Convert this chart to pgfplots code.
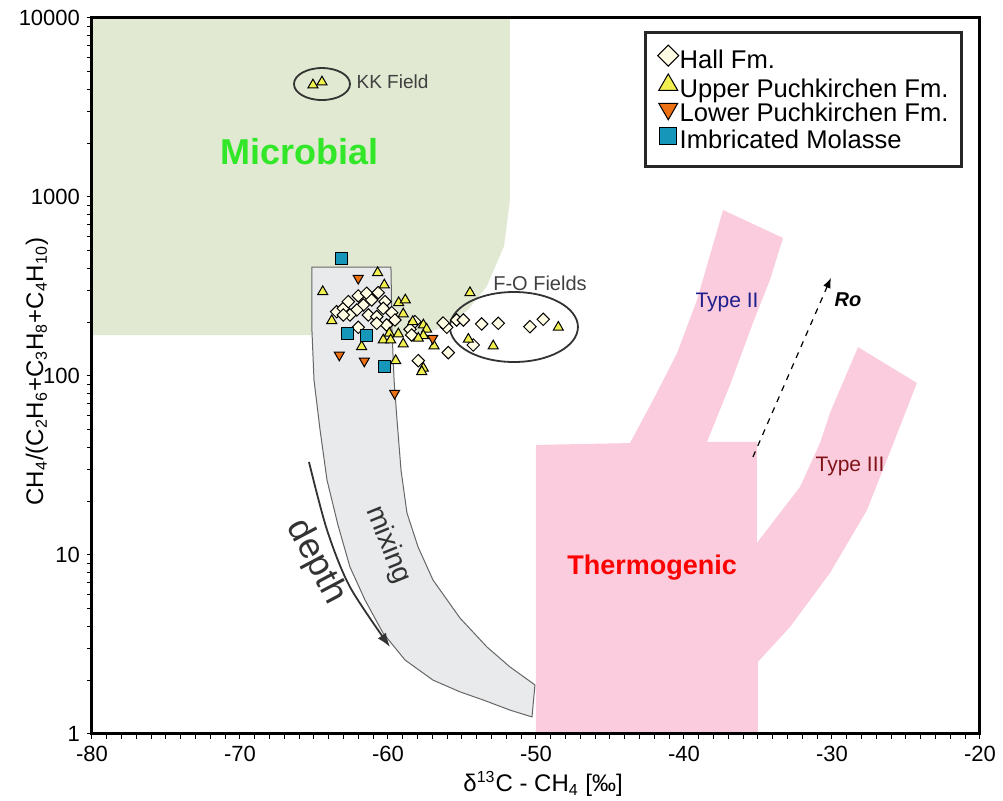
\documentclass[border=0pt]{standalone}
\usepackage{fontspec}
\setmainfont{Liberation Sans}
\usepackage{pgfplots}
\pgfplotsset{compat=1.18}
\usetikzlibrary{arrows.meta}

\definecolor{microgreen}{RGB}{225,233,210}
\definecolor{thermopink}{RGB}{250,204,221}
\definecolor{mixgray}{RGB}{233,234,235}
\definecolor{hallfill}{RGB}{255,253,228}
\definecolor{upperfill}{RGB}{242,240,80}
\definecolor{lowerfill}{RGB}{236,112,20}
\definecolor{imbfill}{RGB}{22,150,185}
\definecolor{microtext}{RGB}{50,230,40}
\definecolor{typetwo}{RGB}{30,30,140}
\definecolor{typethree}{RGB}{130,20,25}

\begin{document}
\begin{tikzpicture}
\useasboundingbox (-46pt,-33.5pt) rectangle (455.5pt,367pt);
\begin{axis}[
  at={(0,0)}, anchor=south west,
  scale only axis, width=444pt, height=358pt,
  xmin=-80, xmax=-20, ymin=1, ymax=10000,
  ymode=log,
  axis on top,
  axis line style={line width=1.5pt},
  xtick={-80,-70,-60,-50,-40,-30,-20},
  xticklabels={-80,-70,-60,-50,-40,-30,-20},
  minor x tick num=9,
  ytick={1,10,100,1000,10000},
  yticklabels={1,10,100,1000,10000},
  tick align=outside, xtick pos=bottom, ytick pos=left,
  major tick length=2.5pt, minor tick length=2.5pt,
  tick style={black, line width=0.5pt},
  xticklabel style={font=\fontsize{11}{12}\selectfont},
  yticklabel style={font=\fontsize{11}{12}\selectfont},
  xlabel={δ\textsuperscript{13}C - CH\textsubscript{4} [‰]},
  ylabel={CH\textsubscript{4}/(C\textsubscript{2}H\textsubscript{6}+C\textsubscript{3}H\textsubscript{8}+C\textsubscript{4}H\textsubscript{10})},
  every axis x label/.style={at={(axis description cs:0.508,-0.07)}, anchor=center, font=\fontsize{12}{14}\selectfont},
  every axis y label/.style={at={(axis description cs:-0.062,0.506)}, anchor=center, rotate=90, font=\fontsize{12}{14}\selectfont},
  legend style={at={(0.981,0.982)}, anchor=north east, draw=black!85, line width=1.5pt,
    font=\fontsize{12.8}{12.8}\selectfont, legend cell align=left,
    inner xsep=6pt, inner ysep=6.4pt,
    nodes={inner xsep=0.5pt, inner ysep=0pt, text height=9pt, text depth=2.7pt}, row sep=0pt},
  legend image code/.code={\draw[#1, line width=0.6pt] plot coordinates {(0.2cm,0.33em)};},
]

% Microbial field
\addplot[fill=microgreen, draw=none, forget plot] coordinates {
  (-80,10000) (-51.76,10000) (-51.76,962) (-52.16,531) (-53.34,315) (-54.64,232)
  (-56.20,188) (-57.57,172) (-58.51,169) (-80,169)
} -- cycle;

% Thermogenic field
\addplot[fill=thermopink, draw=none, forget plot] coordinates {
  (-50,1) (-35,1) (-35,2.53) (-32.84,3.96) (-30.14,7.93) (-27.64,17.8) (-25.95,40.1)
  (-24.26,91.4) (-28.24,145) (-30.14,62.1) (-30.81,42.2) (-32.16,24.0) (-35.07,11.7)
  (-35.07,42.8) (-38.45,42.8) (-36.89,89.1) (-35.34,198) (-34.19,344) (-33.31,590)
  (-37.36,846) (-39.12,266) (-40.47,134) (-42.09,73.4) (-43.65,42.2) (-50,41.2)
} -- cycle;

% Mixing band
\addplot[fill=mixgray, draw=black!60, line width=0.5pt, forget plot] coordinates {
  (-65.14,406) (-65.14,181) (-65.0,95) (-64.59,49.9) (-64.12,26.2) (-63.38,14.7)
  (-62.57,8.57) (-61.55,5.60) (-60.34,3.67) (-58.85,2.59) (-56.96,2.00) (-55.14,1.72)
  (-53.58,1.55) (-51.76,1.36) (-50.27,1.245) (-50.07,1.88) (-51.76,2.37) (-53.31,3.06)
  (-55.14,4.45) (-56.96,7.25) (-57.97,11.1) (-58.72,17.2) (-59.12,29.8) (-59.39,56.8)
  (-59.59,95) (-59.73,181) (-59.80,406)
} -- cycle;

% Ellipses
\draw[black!80, line width=0.9pt] (axis cs:-64.46,4276) ellipse [x radius=14pt, y radius=8pt];
\draw[black!80, line width=0.9pt] (axis cs:-51.49,187.8) ellipse [x radius=32pt, y radius=17.5pt];

% Arrows
\addplot[black, dashed, line width=0.6pt, -{Latex[length=5pt,width=4pt]}, forget plot] coordinates {(-35.34,35.3) (-30.07,353)};
\addplot[black!80, line width=0.9pt, smooth, -{Latex[length=7pt,width=5pt]}, forget plot] coordinates {(-65.34,33.1) (-64.12,13.8) (-62.57,6.63) (-59.86,3.06)};

% Labels
\node[font=\fontsize{18}{20}\selectfont\bfseries, text=microtext] at (axis cs:-65.95,1784) {Microbial};
\node[font=\fontsize{13.5}{15}\selectfont\bfseries, text=red] at (axis cs:-42.16,8.46) {Thermogenic};
\node[font=\fontsize{9.5}{11}\selectfont, text=black!75, anchor=west] at (axis cs:-62.6,4390) {KK Field};
\node[font=\fontsize{10}{12}\selectfont, text=black!75] at (axis cs:-49.73,331) {F-O Fields};
\node[font=\fontsize{10.5}{12}\selectfont, text=typetwo] at (axis cs:-37.09,259) {Type II};
\node[font=\fontsize{10.5}{12}\selectfont, text=typethree] at (axis cs:-28.78,31.4) {Type III};
\node[font=\fontsize{10}{12}\selectfont\bfseries\itshape, anchor=west] at (axis cs:-30.3,266) {Ro};
\node[font=\fontsize{14}{16}\selectfont, text=black!80, rotate=-68, inner sep=0pt] at (axis cs:-60,11.4) {mixing};
\node[font=\fontsize{18}{20}\selectfont, text=black!80, rotate=-62, inner sep=0pt] at (axis cs:-64.86,9.14) {depth};

% Hall Fm.
\addplot[only marks, mark=square*, mark size=2.2pt,
  mark options={rotate=45, fill=hallfill, draw=black, line width=0.5pt},
  legend image post style={mark size=3.7pt}] coordinates {
  (-63.47,228.7) (-63.02,238.9) (-62.68,260.1) (-62.01,279.9) (-61.44,289.8) (-60.66,292.0)
  (-60.20,260.1) (-61.10,265.8) (-61.67,249.2) (-62.11,233.7) (-62.57,219.2) (-63.02,219.2)
  (-61.33,219.2) (-60.76,214.5) (-60.32,238.9) (-59.75,225.8) (-59.53,205.5) (-60.09,192.7)
  (-60.76,197.0) (-62.01,187.1) (-58.18,201.1) (-58.51,182.4) (-58.40,169.4) (-56.03,187.1)
  (-55.36,205.5) (-54.91,205.5) (-53.67,195.3) (-52.55,197.0) (-55.93,135.0) (-57.95,121.8)
  (-54.24,149.0) (-50.41,188.6) (-49.51,207.4) (-56.28,197.8)
};
\addlegendentry{Hall Fm.}

% Upper Puchkirchen Fm.
\addplot[only marks, mark=triangle*, mark size=2.9pt,
  mark options={fill=upperfill, draw=black, line width=0.5pt},
  legend image post style={mark size=5.5pt}] coordinates {
  (-60.70,377.6) (-64.41,295.7) (-60.25,322.3) (-59.28,256.7) (-58.83,265.8) (-58.97,222.0)
  (-63.80,203.7) (-61.78,145.8) (-60.32,158.9) (-59.91,173.2) (-59.82,158.9) (-59.30,171.7)
  (-58.97,150.9) (-58.33,201.1) (-57.61,192.7) (-57.39,182.4) (-57.61,168.0) (-57.95,162.4)
  (-56.89,147.1) (-59.48,121.8) (-57.61,110.4) (-57.72,105.7) (-54.46,292.0) (-54.57,160.3)
  (-52.89,147.1) (-48.49,187.1) (-65.07,4224) (-64.46,4390)
};
\addlegendentry{Upper Puchkirchen Fm.}

% Lower Puchkirchen Fm.
\addplot[only marks, mark=triangle*, mark size=2.9pt,
  mark options={rotate=180, fill=lowerfill, draw=black, line width=0.5pt},
  legend image post style={mark size=5.5pt}] coordinates {
  (-62.01,351.4) (-63.29,131.0) (-61.60,121.3) (-59.55,80.1) (-56.98,162.4)
};
\addlegendentry{Lower Puchkirchen Fm.}

% Imbricated Molasse
\addplot[only marks, mark=square*, mark size=3pt,
  mark options={fill=imbfill, draw=black, line width=0.5pt},
  legend image post style={mark size=4.3pt}] coordinates {
  (-63.13,454.6) (-62.75,171.7) (-61.44,167.3) (-60.25,112.3)
};
\addlegendentry{Imbricated Molasse}

\end{axis}
\end{tikzpicture}
\end{document}
